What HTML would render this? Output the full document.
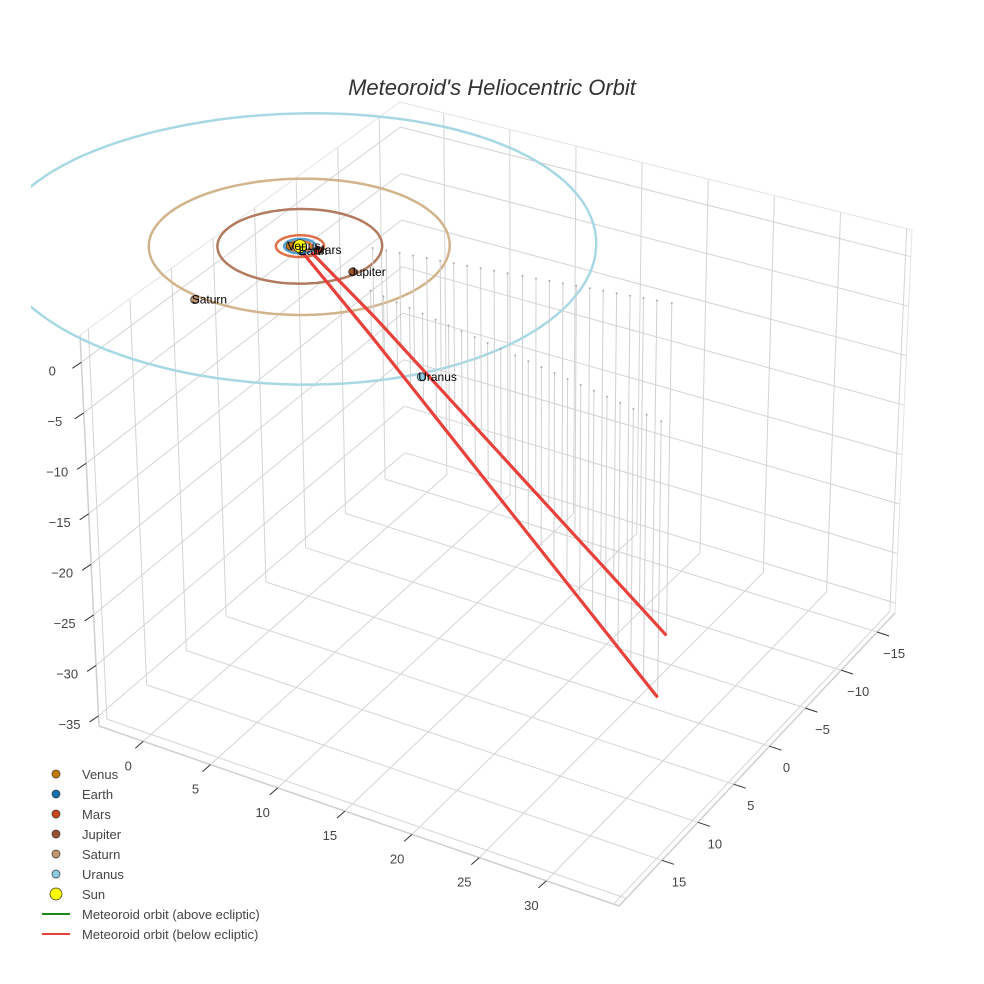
<!DOCTYPE html>
<html><head><meta charset="utf-8"><style>
html,body{margin:0;padding:0;background:#fff;}
svg{display:block;font-family:"Liberation Sans",sans-serif;}
</style></head><body>
<svg id="chart" width="984" height="984" viewBox="0 0 984 984">
<defs><clipPath id="plotclip"><rect x="31" y="0" width="953" height="984"/></clipPath></defs>
<rect width="984" height="984" fill="#fff"/>
<text x="492" y="95" text-anchor="middle" font-size="22" font-style="italic" fill="#333">Meteoroid's Heliocentric Orbit</text>
<g id="grid"></g>
<g id="orbits" clip-path="url(#plotclip)"></g>
<g id="stems"></g>
<g id="meteor"></g>
<g id="planets"></g>
<g id="ticks"></g>
<g id="legend"></g>
</svg>
<script>
// axis tick values
const xTicks = [0,5,10,15,20,25,30];
const yTicks = [-15,-10,-5,0,5,10,15];
const zTicks = [0,-5,-10,-15,-20,-25,-30,-35];
const xGrid = [0,5,10,15,20,25,30,35];
const yGrid = [-15,-10,-5,0,5,10,15,20];
// planets
const planetNames = ["Venus","Earth","Mars","Jupiter","Saturn","Uranus"];
const planetX = [-0.54,0.45,1.25,4.7,-1.8,15.6];
const planetY = [0.32,0.55,-0.1,1.35,9.8,11.4];
const planetColors = ["#c47a0c","#1470b0","#c8471c","#9a5530","#c49670","#8ccbe0"];
const orbitRadii = [0.72,1.0,1.52,5.2,9.5,18.9];
const orbitColors = ["#d97a3a","#5aa0cf","#e0704a","#b27a5e","#d2b48c","#a8d8e4"];
// meteoroid (below ecliptic) segments: start, waypoint, end
const meteorStartX = [0.5,1.1];
const meteorStartY = [0.6,0.4];
const meteorStartZ = [0,0];
const meteorMidX = [7.0,4.1];
const meteorMidY = [3.0,-2.1];
const meteorMidZ = [-4.6,-7];
const meteorEndX = [31.6,24.6];
const meteorEndY = [8.8,-5.0];
const meteorEndZ = [-26.5,-33.2];
const stemFractions = [0,0.045,0.09,0.135,0.18,0.225,0.27,0.315,0.36,0.405,0.45,0.5,0.545,0.59,0.635,0.68,0.725,0.77,0.815,0.86,0.905,0.95,1.0];

const Amin=-3.3, Amax=35.4, Bmin=-17.5, Bmax=21, Zmin=-36, Zmax=2.7;
const C = {
  K:{b:[405,462],t:[400,102]}, L:{b:[99,726],t:[80,335]},
  R:{b:[895,613],t:[912,230]}, F:{b:[619,906],t:[622,490]}
};
function lerp(p,q,t){return [p[0]+(q[0]-p[0])*t,p[1]+(q[1]-p[1])*t];}
function P(x,y,z){
  const a=(x-Amin)/(Amax-Amin), b=(y-Bmin)/(Bmax-Bmin), c=(z-Zmin)/(Zmax-Zmin);
  const bot=lerp(lerp(C.K.b,C.L.b,b),lerp(C.R.b,C.F.b,b),a);
  const top=lerp(lerp(C.K.t,C.L.t,b),lerp(C.R.t,C.F.t,b),a);
  return lerp(bot,top,c);
}
const NS="http://www.w3.org/2000/svg";
function mk(tag,attrs,parent){const e=document.createElementNS(NS,tag);for(const k in attrs)e.setAttribute(k,attrs[k]);parent.appendChild(e);return e;}
function line(p,q,stroke,w,parent,name){
  const e=mk('line',{x1:p[0].toFixed(1),y1:p[1].toFixed(1),x2:q[0].toFixed(1),y2:q[1].toFixed(1),stroke:stroke,'stroke-width':w},parent);
  
  
  return e;
}
const grid=document.getElementById('grid');
const GC="#d4d4d4";
xGrid.forEach(v=>line(P(v,Bmin,Zmin),P(v,Bmax,Zmin),GC,1,grid,'floor-gridline-x'));
yGrid.forEach(v=>line(P(Amin,v,Zmin),P(Amax,v,Zmin),GC,1,grid,'floor-gridline-y'));
yGrid.forEach(v=>line(P(Amin,v,Zmin),P(Amin,v,Zmax),GC,1,grid,'left-wall-gridline-v'));
zTicks.forEach(v=>line(P(Amin,Bmin,v),P(Amin,Bmax,v),GC,1,grid,'left-wall-gridline-h'));
xGrid.forEach(v=>line(P(v,Bmin,Zmin),P(v,Bmin,Zmax),GC,1,grid,'right-wall-gridline-v'));
zTicks.forEach(v=>line(P(Amin,Bmin,v),P(Amax,Bmin,v),GC,1,grid,'right-wall-gridline-h'));
const EC="#e4e4e4";
line(P(Amin,Bmax,Zmin),P(Amax,Bmax,Zmin),"#cfcfcf",1.5,grid,'x-axis-line');
line(P(Amax,Bmax,Zmin),P(Amax,Bmin,Zmin),"#cfcfcf",1.5,grid,'y-axis-line');
line(P(Amin,Bmax,Zmin),P(Amin,Bmax,Zmax),"#cfcfcf",1.5,grid,'z-axis-line');
line(P(Amax,Bmin,Zmin),P(Amax,Bmin,Zmax),EC,1,grid,'box-edge');
line(P(Amin,Bmin,Zmax),P(Amin,Bmax,Zmax),EC,1,grid,'box-edge');
line(P(Amin,Bmin,Zmax),P(Amax,Bmin,Zmax),EC,1,grid,'box-edge');

const orb=document.getElementById('orbits');
orbitRadii.forEach((r,i)=>{
  let d='';
  for(let k=0;k<=120;k++){const th=k/120*2*Math.PI;const p=P(r*Math.cos(th),r*Math.sin(th),0);d+=(k?'L':'M')+p[0].toFixed(1)+','+p[1].toFixed(1);}
  const e=mk('path',{d:d,fill:'none',stroke:orbitColors[i],'stroke-width':2.5},orb);
  
  
});

const stems=document.getElementById('stems');
const met=document.getElementById('meteor');
meteorEndX.forEach((ex,i)=>{
  const mx=meteorMidX[i],my=meteorMidY[i],mz=meteorMidZ[i],ey=meteorEndY[i],ez=meteorEndZ[i];
  stemFractions.forEach(t=>{
    const x=mx+(ex-mx)*t,y=my+(ey-my)*t,z=mz+(ez-mz)*t;
    const top=P(x,y,0),bot=P(x,y,z);
    line(top,bot,"#d0d0d0",1,stems,'drop-line');
    const c=mk('circle',{cx:top[0].toFixed(1),cy:top[1].toFixed(1),r:1,fill:'#aaa'},stems);
    
    
  });
  const a=P(meteorStartX[i],meteorStartY[i],meteorStartZ[i]),b=P(mx,my,mz),c=P(ex,ey,ez);
  const pth=mk('path',{d:'M'+a[0].toFixed(1)+','+a[1].toFixed(1)+'L'+b[0].toFixed(1)+','+b[1].toFixed(1)+'L'+c[0].toFixed(1)+','+c[1].toFixed(1),fill:'none',stroke:'#e8403a','stroke-width':3.2},met);
  
  
});

const pl=document.getElementById('planets');
planetNames.forEach((n,i)=>{
  const p=P(planetX[i],planetY[i],0);
  const c=mk('circle',{cx:p[0].toFixed(1),cy:p[1].toFixed(1),r:4,fill:planetColors[i],stroke:'#333','stroke-width':0.8},pl);
  
  
});
{
  const p=P(0,0,0);
  const c=mk('circle',{cx:p[0].toFixed(1),cy:p[1].toFixed(1),r:6.5,fill:'#ffff00',stroke:'#333','stroke-width':0.8},pl);
  
  
}
planetNames.forEach((n,i)=>{
  const p=P(planetX[i],planetY[i],0);
  const t=mk('text',{x:(p[0]-3).toFixed(1),y:(p[1]+4).toFixed(1),'font-size':12,fill:'#000'},pl);
  t.textContent=n;
  
  
});

const tk=document.getElementById('ticks');
xTicks.forEach(v=>{
  const p=P(v,Bmax,Zmin);
  line(p,[p[0]-8,p[1]+7],"#333",1,tk,'x-tick');
  const t=mk('text',{x:(p[0]-15).toFixed(1),y:(p[1]+29).toFixed(1),'font-size':13,fill:'#444','text-anchor':'middle'},tk);
  t.textContent=v;
  
  
});
yTicks.forEach(v=>{
  const p=P(Amax,v,Zmin);
  line(p,[p[0]+12,p[1]+4],"#333",1,tk,'y-tick');
  const t=mk('text',{x:(p[0]+17).toFixed(1),y:(p[1]+26).toFixed(1),'font-size':13,fill:'#444','text-anchor':'middle'},tk);
  t.textContent=(v<0?'\u2212'+(-v):v);
  
  
});
zTicks.forEach(v=>{
  const p=P(Amin,Bmax,v);
  line(p,[p[0]-9,p[1]+6],"#333",1,tk,'z-tick');
  const t=mk('text',{x:(p[0]-29).toFixed(1),y:(p[1]+13).toFixed(1),'font-size':13,fill:'#444','text-anchor':'middle'},tk);
  t.textContent=(v<0?'\u2212'+(-v):v);
  
  
});

const lg=document.getElementById('legend');
const legendLabels=["Venus","Earth","Mars","Jupiter","Saturn","Uranus","Sun","Meteoroid orbit (above ecliptic)","Meteoroid orbit (below ecliptic)"];
const legendColors=["#c47a0c","#1470b0","#c8471c","#9a5530","#c49670","#8ccbe0","#ffff00","#1a8a1a","#e8403a"];
legendLabels.forEach((lab,i)=>{
  const y=774+i*20;
  const g=mk('g',{},lg);
  
  
  if(i<7){
    const c=mk('circle',{cx:56,cy:y,r:i==6?6:4,fill:legendColors[i],stroke:'#333','stroke-width':0.7},g);
    
    
  } else {
    line([42,y],[70,y],legendColors[i],2,g,'legend-line');
  }
  const t=mk('text',{x:82,y:y+5,'font-size':13,fill:'#444'},g);
  t.textContent=lab;
  
  
});
</script>
</body></html>
